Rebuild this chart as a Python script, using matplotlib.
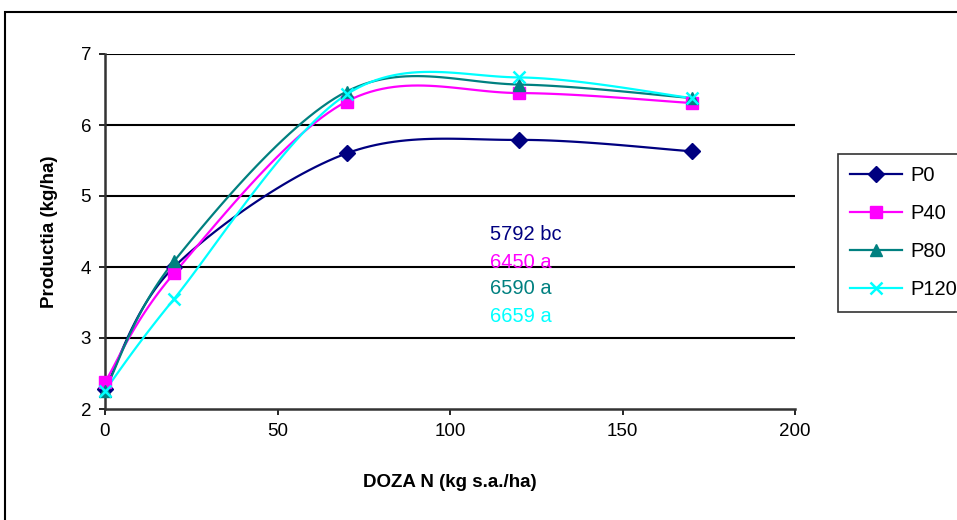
import numpy as np
import matplotlib
matplotlib.use("Agg")
import matplotlib.pyplot as plt
from matplotlib.patches import Rectangle
from matplotlib.lines import Line2D

plt.rcParams['font.family'] = ['Liberation Sans', 'DejaVu Sans']

# data
doza = [0, 20, 70, 120, 170]
p0 = [2.28, 4.00, 5.60, 5.79, 5.63]
p40 = [2.38, 3.91, 6.33, 6.45, 6.31]
p80 = [2.26, 4.08, 6.47, 6.57, 6.38]
p120 = [2.26, 3.55, 6.43, 6.67, 6.38]
series_names = ['P0', 'P40', 'P80', 'P120']
notes = ['5792 bc', '6450 a', '6590 a', '6659 a']

colors = ['#000080', '#FF00FF', '#008080', '#00FFFF']
markers = ['D', 's', '^', 'x']


def smooth(x, y, n=30):
    # excel-like smoothed line: cubic bezier through the points
    x = np.asarray(x, float)
    y = np.asarray(y, float)
    px = np.concatenate([[x[0]], x, [x[-1]]])
    py = np.concatenate([[y[0]], y, [y[-1]]])
    xs, ys = [], []
    t = np.linspace(0, 1, n)
    for i in range(1, len(px) - 2):
        x0, y0 = px[i], py[i]
        x3, y3 = px[i + 1], py[i + 1]
        x1 = x0 + (px[i + 1] - px[i - 1]) / 6
        y1 = y0 + (py[i + 1] - py[i - 1]) / 6
        x2 = x3 - (px[i + 2] - px[i]) / 6
        y2 = y3 - (py[i + 2] - py[i]) / 6
        b = [(1 - t) ** 3, 3 * (1 - t) ** 2 * t, 3 * (1 - t) * t ** 2, t ** 3]
        xs.append(b[0] * x0 + b[1] * x1 + b[2] * x2 + b[3] * x3)
        ys.append(b[0] * y0 + b[1] * y1 + b[2] * y2 + b[3] * y3)
    return np.concatenate(xs), np.concatenate(ys)


W, H = 957, 520
fig = plt.figure(figsize=(W / 100, H / 100), dpi=100)
fig.patches.append(Rectangle((5 / W, -0.2), 1.2, 1.2 - 12 / H,
                             transform=fig.transFigure, fill=False,
                             edgecolor='black', linewidth=1.5))

ax = fig.add_axes([105 / W, 1 - 409 / H, (795 - 105) / W, (409 - 54) / H])
ax.set_xlim(0, 200)
ax.set_ylim(2, 7)
ax.set_xticks([0, 50, 100, 150, 200])
ax.set_yticks([2, 3, 4, 5, 6, 7])
for v in [3, 4, 5, 6, 7]:
    ax.axhline(v, color='black', linewidth=1.5, zorder=1)
for s in ['top', 'right']:
    ax.spines[s].set_visible(False)
ax.spines['left'].set_color('#333333')
ax.spines['bottom'].set_color('#333333')
ax.spines['left'].set_linewidth(1.8)
ax.spines['bottom'].set_linewidth(1.8)
ax.tick_params(labelsize=13.5, length=4, width=1.2, pad=6)

all_y = [p0, p40, p80, p120]
for name, y, c, m in zip(series_names, all_y, colors, markers):
    sx, sy = smooth(doza, y)
    ax.plot(sx, sy, color=c, linewidth=1.6, zorder=3, clip_on=False)
    ax.plot(doza, y, linestyle='none', marker=m, color=c, markersize=8,
            markeredgewidth=1.8 if m == 'x' else 1, zorder=4, clip_on=False)

for i, (txt, c) in enumerate(zip(notes, colors)):
    fig.text(490 / W, 1 - (235 + 27 * i) / H, txt, color=c, fontsize=14.5,
             va='center', ha='left')

ax.set_xlabel('DOZA N (kg s.a./ha)', fontsize=13.5, fontweight='bold')
ax.set_ylabel('Productia (kg/ha)', fontsize=13.5, fontweight='bold')
ax.xaxis.set_label_coords(0.5, (409 - 474) / 355)
ax.yaxis.set_label_coords((58 - 105) / 690, 0.5)

handles = [Line2D([], [], color=c, marker=m, linewidth=1.6, markersize=8,
                  markeredgewidth=1.8 if m == 'x' else 1)
           for c, m in zip(colors, markers)]
leg = fig.legend(handles, series_names, loc='upper left',
                 bbox_to_anchor=(838 / W, 1 - 154 / H), fontsize=14.5,
                 frameon=True, fancybox=False, handlelength=2.6,
                 borderpad=0.6, labelspacing=0.95, handletextpad=0.4,
                 borderaxespad=0)
leg.get_frame().set_edgecolor('black')
leg.get_frame().set_linewidth(1.2)

fig.savefig('out.png', dpi=100)
